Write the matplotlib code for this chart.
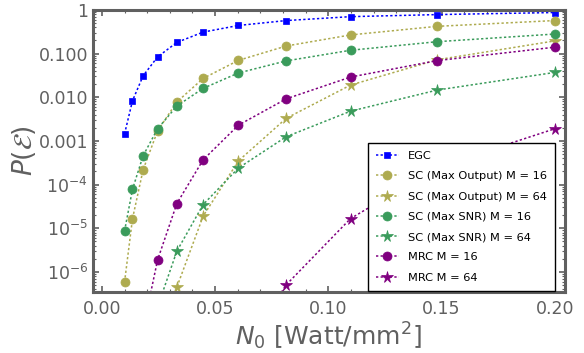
import numpy as np
import matplotlib
matplotlib.use("Agg")
import matplotlib.pyplot as plt
from matplotlib.ticker import FixedLocator, FuncFormatter, AutoMinorLocator, LogLocator, NullFormatter

# noise power values (x axis)
n0 = [0.01, 0.0135, 0.0182, 0.0246, 0.0331, 0.0447, 0.0603, 0.0814, 0.1098, 0.148, 0.2]

# error probabilities per combining scheme
p_egc = [0.00145, 0.0083, 0.031, 0.084, 0.18, 0.31, 0.44, 0.57, 0.70, 0.78, 0.87]
p_sc_out_16 = [5.9e-7, 1.65e-5, 2.2e-4, 0.0017, 0.0078, 0.027, 0.070, 0.149, 0.267, 0.42, 0.57]
p_sc_out_64 = [None, None, None, 4e-9, 4.5e-7, 1.9e-5, 3.5e-4, 0.0033, 0.019, 0.072, 0.195]
p_sc_snr_16 = [8.7e-6, 7.8e-5, 4.6e-4, 0.0019, 0.0063, 0.016, 0.036, 0.068, 0.119, 0.187, 0.28]
p_sc_snr_64 = [None, None, None, 1.6e-7, 3.0e-6, 3.5e-5, 2.4e-4, 0.00125, 0.0048, 0.0146, 0.037]
p_mrc_16 = [None, None, 5e-8, 1.9e-6, 3.7e-5, 3.7e-4, 0.0023, 0.0092, 0.029, 0.069, 0.14]
p_mrc_64 = [None, None, None, None, None, None, 1e-8, 5.1e-7, 1.67e-5, 2.5e-4, 0.0019]

blue = "#0000ff"
olive = "#aeab4f"
green = "#3a9b5b"
purple = "#800080"
grey = "#606060"

series = [
    ("EGC", p_egc, blue, "s", 4.5),
    ("SC (Max Output) M = 16", p_sc_out_16, olive, "o", 6.5),
    ("SC (Max Output) M = 64", p_sc_out_64, olive, "*", 8.5),
    ("SC (Max SNR) M = 16", p_sc_snr_16, green, "o", 6.5),
    ("SC (Max SNR) M = 64", p_sc_snr_64, green, "*", 8.5),
    ("MRC M = 16", p_mrc_16, purple, "o", 6.5),
    ("MRC M = 64", p_mrc_64, purple, "*", 8.5),
]

fig = plt.figure(figsize=(5.84, 3.53), dpi=100)
ax = fig.add_axes([0.159, 0.173, 0.808, 0.799])

for label, vals, col, mk, ms in series:
    x = [a for a, b in zip(n0, vals) if b is not None]
    y = [b for b in vals if b is not None]
    ax.plot(x, y, linestyle=(0, (1.5, 1.5)), linewidth=1.1, color=col,
            marker=mk, markersize=ms, markeredgewidth=0.5, label=label)

ax.set_yscale("log")
ax.set_xlim(-0.004, 0.2044)
ax.set_ylim(3.5e-7, 1.0)

ax.set_xticks([0.0, 0.05, 0.10, 0.15, 0.20])
ax.xaxis.set_major_formatter(FuncFormatter(lambda v, p: f"{v:.2f}"))
ax.xaxis.set_minor_locator(AutoMinorLocator(5))

yt = [1e-6, 1e-5, 1e-4, 1e-3, 1e-2, 1e-1, 1.0]
ylabels = {1e-6: r"$10^{-6}$", 1e-5: r"$10^{-5}$", 1e-4: r"$10^{-4}$",
           1e-3: "0.001", 1e-2: "0.010", 1e-1: "0.100", 1.0: "1"}
ax.yaxis.set_major_locator(FixedLocator(yt))
ax.yaxis.set_major_formatter(FuncFormatter(
    lambda v, p: min(ylabels.items(), key=lambda kv: abs(np.log10(kv[0]) - np.log10(v)))[1]))
ax.yaxis.set_minor_locator(LogLocator(base=10, subs=np.arange(2, 10), numticks=20))
ax.yaxis.set_minor_formatter(NullFormatter())

ax.tick_params(which="both", direction="in", top=True, right=True,
               colors=grey, labelsize=12.5)
ax.tick_params(which="major", length=4, width=1.2)
ax.tick_params(which="minor", length=2, width=0.8)
ax.tick_params(axis="x", pad=6)
for sp in ax.spines.values():
    sp.set_color(grey)
    sp.set_linewidth(2.2)

ax.set_xlabel(r"$N_0$ [Watt/mm$^2$]", fontsize=18, color=grey, labelpad=2)
ax.set_ylabel(r"$P(\mathcal{E})$", fontsize=19, color=grey, labelpad=0)

leg = ax.legend(loc="lower right", bbox_to_anchor=(0.979, 0.005), borderaxespad=0,
                fontsize=8.2, frameon=True, fancybox=False, edgecolor="black",
                handlelength=2.0, borderpad=0.7, labelspacing=0.9)
leg.get_frame().set_linewidth(1.0)
leg.get_frame().set_alpha(1.0)

fig.savefig("out.png", dpi=100)
